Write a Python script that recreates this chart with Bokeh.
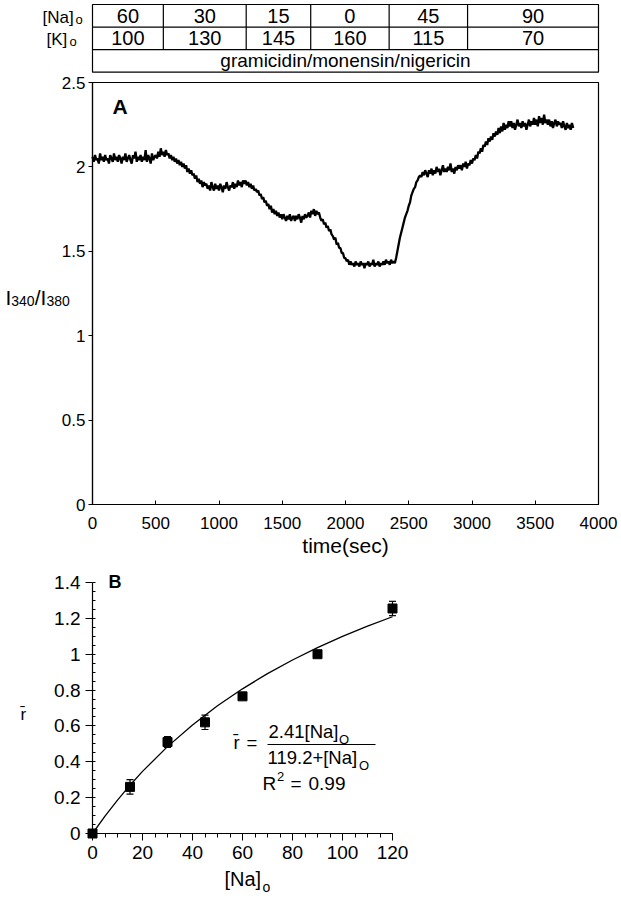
from bokeh.plotting import figure
from bokeh.models import (Range1d, FixedTicker, NumeralTickFormatter, Label,
                          ColumnDataSource, Whisker, TeeHead, LinearAxis)
from bokeh.core.properties import value
from bokeh.embed import file_html
from bokeh.resources import INLINE

FONT = "Liberation Sans"

# ---------------- data ----------------
# solution table
row_labels = ["[Na]", "[K]"]
na_out = ["60", "30", "15", "0", "45", "90"]
k_out = ["100", "130", "145", "160", "115", "70"]
ionophores = "gramicidin/monensin/nigericin"
period_edges = [0, 560, 1215, 1725, 2345, 2965, 4000]

# panel A: I340/I380 trace, sampled every 10 s from 0 s
t_start = 0
t_step = 10
ratio_340_380 = [
    2.06, 2.03, 2.07, 2.04, 2.05, 2.02, 2.08, 2.04, 2.06, 2.03,
    2.07, 2.04, 2.05, 2.02, 2.07, 2.05, 2.03, 2.08, 2.04, 2.06,
    2.03, 2.07, 2.05, 2.02, 2.06, 2.04, 2.08, 2.03, 2.05, 2.07,
    2.04, 2.02, 2.07, 2.05, 2.09, 2.03, 2.06, 2.04, 2.07, 2.03,
    2.06, 2.04, 2.10, 2.03, 2.07, 2.05, 2.02, 2.08, 2.04, 2.06,
    2.07, 2.05, 2.09, 2.06, 2.11, 2.07, 2.09, 2.06, 2.10, 2.07,
    2.08, 2.05, 2.07, 2.04, 2.06, 2.03, 2.05, 2.02, 2.04, 2.01,
    2.03, 2.00, 2.02, 1.99, 2.01, 1.97, 1.99, 1.96, 1.98, 1.95,
    1.96, 1.93, 1.95, 1.91, 1.93, 1.90, 1.92, 1.88, 1.91, 1.89,
    1.90, 1.87, 1.89, 1.86, 1.91, 1.88, 1.86, 1.90, 1.87, 1.89,
    1.86, 1.90, 1.88, 1.85, 1.89, 1.87, 1.91, 1.88, 1.86, 1.89,
    1.88, 1.91, 1.87, 1.90, 1.88, 1.92, 1.89, 1.91, 1.88, 1.92,
    1.90, 1.92, 1.89, 1.91, 1.88, 1.90, 1.87, 1.89, 1.86, 1.87,
    1.85, 1.86, 1.83, 1.84, 1.81, 1.82, 1.79, 1.80, 1.77, 1.78,
    1.75, 1.77, 1.73, 1.75, 1.72, 1.74, 1.71, 1.73, 1.70, 1.72,
    1.69, 1.72, 1.70, 1.68, 1.71, 1.69, 1.72, 1.68, 1.70, 1.71,
    1.68, 1.71, 1.69, 1.72, 1.70, 1.67, 1.71, 1.69, 1.72, 1.70,
    1.71, 1.73, 1.70, 1.74, 1.72, 1.75, 1.71, 1.74, 1.72, 1.73,
    1.70, 1.68, 1.69, 1.66, 1.67, 1.64, 1.65, 1.62, 1.63, 1.60,
    1.59, 1.57, 1.58, 1.54, 1.55, 1.52, 1.52, 1.49, 1.49, 1.46,
    1.46, 1.44, 1.45, 1.42, 1.44, 1.42, 1.43, 1.41, 1.44, 1.42,
    1.43, 1.41, 1.44, 1.42, 1.43, 1.40, 1.43, 1.42, 1.44, 1.41,
    1.43, 1.42, 1.45, 1.41, 1.43, 1.42, 1.44, 1.41, 1.43, 1.42,
    1.44, 1.42, 1.45, 1.43, 1.44, 1.42, 1.45, 1.43, 1.44, 1.43,
    1.46, 1.50, 1.54, 1.58, 1.61, 1.64, 1.67, 1.70, 1.72, 1.74,
    1.77, 1.79, 1.83, 1.85, 1.87, 1.88, 1.91, 1.92, 1.94, 1.95,
    1.94, 1.97, 1.95, 1.98, 1.96, 1.94, 1.98, 1.96, 1.99, 1.95,
    1.98, 1.96, 2.00, 1.97, 1.99, 1.95, 1.98, 2.01, 1.97, 1.99,
    1.97, 2.00, 1.98, 2.02, 1.97, 1.99, 1.96, 2.00, 1.98, 2.01,
    1.99, 2.01, 1.98, 2.02, 2.00, 2.03, 1.99, 2.02, 2.01, 2.04,
    2.02, 2.05, 2.04, 2.07, 2.05, 2.09, 2.08, 2.11, 2.09, 2.13,
    2.12, 2.15, 2.13, 2.17, 2.15, 2.18, 2.16, 2.20, 2.18, 2.21,
    2.19, 2.23, 2.20, 2.24, 2.21, 2.26, 2.22, 2.25, 2.23, 2.27,
    2.24, 2.27, 2.23, 2.26, 2.22, 2.25, 2.28, 2.24, 2.26, 2.23,
    2.27, 2.24, 2.26, 2.22, 2.25, 2.28, 2.24, 2.27, 2.25, 2.29,
    2.25, 2.28, 2.24, 2.30, 2.26, 2.29, 2.25, 2.31, 2.26, 2.28,
    2.25, 2.28, 2.24, 2.27, 2.23, 2.26, 2.28, 2.24, 2.27, 2.25,
    2.26, 2.23, 2.27, 2.24, 2.22, 2.26, 2.23, 2.25, 2.22, 2.26,
    2.23,
]
time_sec = [t_start + i * t_step for i in range(len(ratio_340_380))]

a_xticks = [0, 500, 1000, 1500, 2000, 2500, 3000, 3500, 4000]
a_yticks = [0, 0.5, 1, 1.5, 2, 2.5]

# panel B: mean ratio vs [Na]o
na_conc = [0, 15, 30, 45, 60, 90, 120]
r_mean = [0.0, 0.26, 0.51, 0.62, 0.765, 1.0, 1.255]
r_err = [0.0, 0.04, 0.03, 0.04, 0.015, 0.015, 0.04]
fit_na = [0, 5, 10, 15, 20, 30, 40, 50, 60, 70, 80, 90, 100, 110, 120]
fit_r = [0.0, 0.097, 0.1865, 0.2694, 0.3463, 0.4846, 0.6055, 0.7122, 0.8069,
         0.8917, 0.9679, 1.0368, 1.0995, 1.1566, 1.2090]
b_xticks = [0, 20, 40, 60, 80, 100, 120]
b_yticks = [0, 0.2, 0.4, 0.6, 0.8, 1.0, 1.2, 1.4]

# ---------------- layout (page pixels) ----------------
W, H = 618, 896
PAGE_L, PAGE_R, PAGE_T, PAGE_B = 0, W, 0, H


def span(d0, p0, d1, p1, lo, hi):
    s = (d1 - d0) / (p1 - p0)
    return d0 + (lo - p0) * s, d0 + (hi - p0) * s


def mapper(d0, p0, d1, p1):
    s = (d1 - d0) / (p1 - p0)
    return lambda px: d0 + (px - p0) * s


# panel A frame: x 0..4000 -> 92..598 px ; y 0..2.5 -> 504..82 px
A_X = (0, 92, 4000, 598)
A_Y = (0, 504, 2.5, 82)
# table rows: 0..3 -> 71.7..4 px
T_Y = (0, 71.7, 3, 4)
# panel B: x 0..120 -> 92..392 px ; y 0..1.4 -> 833..582 px
B_X = (0, 92, 120, 392)
B_Y = (0, 833, 1.4, 582)

ax_, ay_, ty_ = mapper(*A_X), mapper(*A_Y), mapper(*T_Y)
bx_, by_ = mapper(*B_X), mapper(*B_Y)

p = figure(width=W, height=H, x_range=Range1d(0, W), y_range=Range1d(0, H),
           x_axis_type=None, y_axis_type=None, toolbar_location=None,
           output_backend="svg", min_border=0, min_border_left=0, min_border_right=0,
           min_border_top=0, min_border_bottom=0)
p.outline_line_color = None
p.background_fill_color = "white"
p.border_fill_color = "white"
p.extra_x_ranges = {"ax": Range1d(*span(*A_X, PAGE_L, PAGE_R)),
                    "bx": Range1d(*span(*B_X, PAGE_L, PAGE_R))}
p.extra_y_ranges = {"ay": Range1d(*span(*A_Y, PAGE_B, PAGE_T)),
                    "ty": Range1d(*span(*T_Y, PAGE_B, PAGE_T)),
                    "by": Range1d(*span(*B_Y, PAGE_B, PAGE_T))}


def lab(x, y, text, size, xr, yr, align="left", style="normal"):
    p.add_layout(Label(x=x, y=y, text=text, text_font=FONT, text_font_size=size,
                       text_align=align, text_baseline="middle", text_font_style=style,
                       text_color="black", x_range_name=xr, y_range_name=yr))


# ---------------- table ----------------
TK = dict(x_range_name="ax", y_range_name="ty")
p.quad(left=[period_edges[0]], right=[period_edges[-1]], bottom=[0], top=[3],
       fill_color=None, line_color="black", line_width=1.2, **TK)
p.segment(x0=[period_edges[0]] * 2, y0=[1, 2], x1=[period_edges[-1]] * 2, y1=[1, 2],
          line_color="black", line_width=1.2, **TK)
inner = period_edges[1:-1]
p.segment(x0=inner, y0=[1] * len(inner), x1=inner, y1=[3] * len(inner),
          line_color="black", line_width=1.2, **TK)
centers = [(a + b) / 2 for a, b in zip(period_edges[:-1], period_edges[1:])]
p.text(x=centers, y=[2.5] * len(centers), text=na_out, text_align="center",
       text_baseline="middle", text_font=value(FONT), text_font_size="20px",
       text_color="black", **TK)
p.text(x=centers, y=[1.5] * len(centers), text=k_out, text_align="center",
       text_baseline="middle", text_font=value(FONT), text_font_size="20px",
       text_color="black", **TK)
p.text(x=[(period_edges[0] + period_edges[-1]) / 2], y=[0.5], text=[ionophores],
       text_align="center", text_baseline="middle", text_font=value(FONT),
       text_font_size="19px", text_color="black", **TK)
lab(ax_(42), ty_(16.5), row_labels[0], "17px", "ax", "ty")
lab(ax_(75), ty_(18.5), "o", "13px", "ax", "ty")
lab(ax_(46), ty_(38.5), row_labels[1], "17px", "ax", "ty")
lab(ax_(69), ty_(40.5), "o", "13px", "ax", "ty")

# ---------------- panel A ----------------
AK = dict(x_range_name="ax", y_range_name="ay")
p.quad(left=[a_xticks[0]], right=[a_xticks[-1]], bottom=[a_yticks[0]], top=[a_yticks[-1]],
       fill_color=None, line_color="black", line_width=1.2, **AK)
p.line(time_sec, ratio_340_380, line_color="black", line_width=2.3, **AK)

xa = LinearAxis(x_range_name="ax", y_range_name="ay", fixed_location=0,
                bounds=(a_xticks[0], a_xticks[-1]),
                ticker=FixedTicker(ticks=a_xticks, minor_ticks=[]))
ya = LinearAxis(x_range_name="ax", y_range_name="ay", fixed_location=0,
                bounds=(a_yticks[0], a_yticks[-1]),
                ticker=FixedTicker(ticks=a_yticks, minor_ticks=[]),
                formatter=NumeralTickFormatter(format="0.[0]"))
for axis in (xa, ya):
    axis.axis_line_color = "black"
    axis.axis_line_width = 1.2
    axis.major_tick_line_color = "black"
    axis.major_label_text_font = FONT
    axis.major_label_text_font_size = "17px"
    axis.major_label_text_color = "black"
xa.major_tick_in = 4
xa.major_tick_out = 0
xa.major_label_standoff = 12
ya.major_tick_in = 0
ya.major_tick_out = 4
ya.major_label_standoff = 3
p.add_layout(xa, "below")
p.add_layout(ya, "left")

lab(ax_(112), ay_(105.5), "A", "21px", "ax", "ay", style="bold")
lab(ax_(345), ay_(545), "time(sec)", "21px", "ax", "ay", align="center")
lab(ax_(5), ay_(296.5), "I", "21px", "ax", "ay")
lab(ax_(10.8), ay_(300.5), "340", "14px", "ax", "ay")
lab(ax_(34.2), ay_(296.5), "/", "21px", "ax", "ay")
lab(ax_(40), ay_(296.5), "I", "21px", "ax", "ay")
lab(ax_(45.9), ay_(300.5), "380", "14px", "ax", "ay")

# ---------------- panel B ----------------
BK = dict(x_range_name="bx", y_range_name="by")
p.line(fit_na, fit_r, line_color="black", line_width=1.3, **BK)
src = ColumnDataSource(dict(x=na_conc, r=r_mean,
                            lo=[m - e for m, e in zip(r_mean, r_err)],
                            hi=[m + e for m, e in zip(r_mean, r_err)]))
p.add_layout(Whisker(source=src, base="x", lower="lo", upper="hi", dimension="height",
                     line_color="black", line_width=1.2,
                     lower_head=TeeHead(size=7, line_color="black", line_width=1.2),
                     upper_head=TeeHead(size=7, line_color="black", line_width=1.2),
                     **BK))
p.scatter("x", "r", source=src, marker="square", size=9, fill_color="black",
          line_color="black", **BK)

xb = LinearAxis(x_range_name="bx", y_range_name="by", fixed_location=0,
                bounds=(b_xticks[0], b_xticks[-1]),
                ticker=FixedTicker(ticks=b_xticks, minor_ticks=list(range(0, 121, 5))))
yb = LinearAxis(x_range_name="bx", y_range_name="by", fixed_location=0,
                bounds=(b_yticks[0], b_yticks[-1]),
                ticker=FixedTicker(ticks=b_yticks, minor_ticks=[i * 0.05 for i in range(29)]),
                formatter=NumeralTickFormatter(format="0.[0]"))
for axis in (xb, yb):
    axis.axis_line_color = "black"
    axis.axis_line_width = 1.2
    axis.major_tick_line_color = "black"
    axis.minor_tick_line_color = "black"
    axis.major_label_text_font = FONT
    axis.major_label_text_font_size = "19px"
    axis.major_label_text_color = "black"
xb.major_tick_in = 0
xb.major_tick_out = 7
xb.minor_tick_in = 0
xb.minor_tick_out = 4
xb.major_label_standoff = 5
yb.major_tick_in = 0
yb.major_tick_out = 7
yb.minor_tick_in = 3
yb.minor_tick_out = 0
yb.major_label_standoff = 5
p.add_layout(xb, "below")
p.add_layout(yb, "left")

lab(bx_(108), by_(581.5), "B", "18px", "bx", "by", style="bold")
lab(bx_(20), by_(714), "r\u0304", "17px", "bx", "by")
lab(bx_(224), by_(878), "[Na]", "20px", "bx", "by")
lab(bx_(262), by_(886), "o", "14px", "bx", "by")
# fitted equation
lab(bx_(233), by_(742), "r\u0304", "18.5px", "bx", "by")
lab(bx_(246), by_(742), "=", "18.5px", "bx", "by")
lab(bx_(268), by_(730.5), "2.41[Na]", "18.5px", "bx", "by")
lab(bx_(338.5), by_(738.5), "O", "13px", "bx", "by")
lab(bx_(267), by_(756.5), "119.2+[Na]", "18.5px", "bx", "by")
lab(bx_(358.5), by_(764.5), "O", "13px", "bx", "by")
p.segment(x0=[bx_(267)], y0=[by_(744)], x1=[bx_(375)], y1=[by_(744)],
          line_color="black", line_width=1, **BK)
lab(bx_(262), by_(782.5), "R", "19px", "bx", "by")
lab(bx_(276.5), by_(775.5), "2", "13px", "bx", "by")
lab(bx_(290), by_(782.5), "=", "19px", "bx", "by")
lab(bx_(308), by_(782.5), "0.99", "19px", "bx", "by")

open("out.html", "w").write(file_html(p, INLINE))
